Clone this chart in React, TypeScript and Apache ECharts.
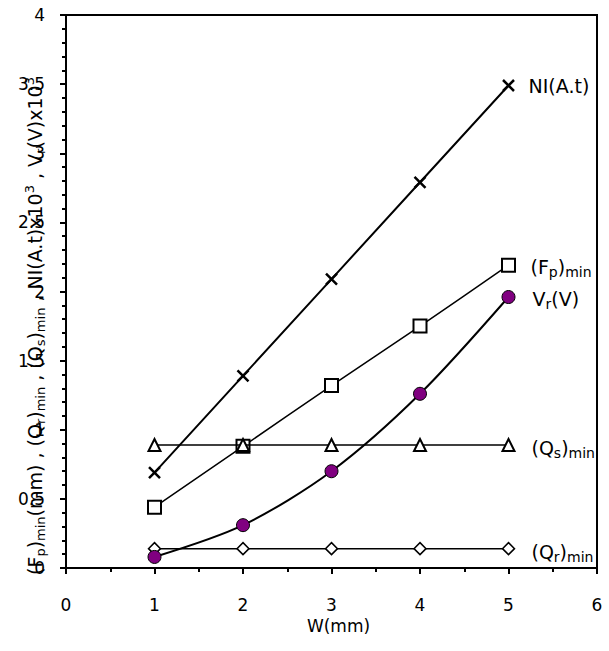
import React, { useEffect, useRef } from 'react';
import * as echarts from 'echarts';

const widths = [1, 2, 3, 4, 5];
const niValues = [0.69, 1.39, 2.09, 2.79, 3.49];
const fpValues = [0.44, 0.88, 1.32, 1.75, 2.19];
const vrValues = [0.08, 0.31, 0.7, 1.26, 1.96];
const qsValues = [0.89, 0.89, 0.89, 0.89, 0.89];
const qrValues = [0.14, 0.14, 0.14, 0.14, 0.14];

const FONT = 'DejaVu Sans, Liberation Sans, Arial, sans-serif';
const FS = 17;

const titleRich = {
  n: { fontSize: 19, fontFamily: FONT, color: '#000', lineHeight: 24 },
  s: { fontSize: 13, fontFamily: FONT, color: '#000', lineHeight: 15, verticalAlign: 'bottom' },
  p: { fontSize: 13, fontFamily: FONT, color: '#000', lineHeight: 15, verticalAlign: 'top' },
};

const labelRich = {
  n: { fontSize: 19, fontFamily: FONT, color: '#000', lineHeight: 24 },
  s: { fontSize: 14, fontFamily: FONT, color: '#000', lineHeight: 16, verticalAlign: 'bottom' },
};

const pts = (vals: number[]) => widths.map((w, i) => [w, vals[i]]);

const crossPath = 'path://M0 0L10 10M10 0L0 10';

export default function App() {
  const ref = useRef<HTMLDivElement>(null);
  useEffect(() => {
    if (!ref.current) return;
    const chart = echarts.init(ref.current, null, { renderer: 'svg' });
    const endLabel = (text: string, distance: number, dy = 0) => ({
      show: true,
      formatter: text,
      distance,
      offset: [0, dy],
      rich: labelRich,
    });
    const option: any = {
      animation: false,
      backgroundColor: '#fff',
      grid: {
        left: 66,
        top: 15,
        right: 12,
        bottom: 83,
        show: true,
        borderColor: '#000',
        borderWidth: 2,
      },
      xAxis: {
        type: 'value',
        min: 0,
        max: 6,
        interval: 1,
        name: 'W(mm)',
        nameLocation: 'middle',
        nameGap: 48,
        nameTextStyle: { fontSize: FS, fontFamily: FONT, color: '#000', padding: [0, 0, 0, 14] },
        axisLine: { show: true, lineStyle: { color: '#000', width: 2 } },
        axisTick: { show: true, inside: false, length: 6, lineStyle: { color: '#000', width: 2 } },
        minorTick: { show: true, splitNumber: 2, length: 4, lineStyle: { color: '#000', width: 2 } },
        splitLine: { show: false },
        axisLabel: { color: '#000', fontSize: FS, fontFamily: FONT, margin: 28 },
      },
      yAxis: {
        type: 'value',
        min: 0,
        max: 4,
        interval: 0.5,
        axisLine: { show: true, lineStyle: { color: '#000', width: 2 } },
        axisTick: { show: true, inside: false, length: 6, lineStyle: { color: '#000', width: 2 } },
        minorTick: { show: true, splitNumber: 5, length: 4, lineStyle: { color: '#000', width: 2 } },
        splitLine: { show: false },
        axisLabel: { color: '#000', fontSize: FS, fontFamily: FONT, margin: 21 },
      },
      graphic: [
        {
          type: 'text',
          x: 35,
          y: 326,
          rotation: Math.PI / 2,
          z: 100,
          style: {
            text:
              '{n|(F}{s|p}{n|)}{s|min}{n|(mm) , (Q}{s|r}{n|)}{s|min}{n| , (Q}{s|s}{n|)}{s|min}{n| , NI(A.t)x10}{p|3}{n| , V}{s|r}{n|(V)x10}{p|3}',
            rich: titleRich,
            align: 'center',
            verticalAlign: 'middle',
          },
        },
      ],
      series: [
        {
          type: 'line',
          name: '(Fp)min',
          data: pts(fpValues),
          smooth: 0.2,
          symbol: 'rect',
          symbolSize: 13,
          lineStyle: { color: '#000', width: 1.5 },
          itemStyle: { color: '#fff', borderColor: '#000', borderWidth: 2 },
          endLabel: endLabel('{n|(F}{s|p}{n|)}{s|min}', 22, 2),
          z: 3,
        },
        {
          type: 'line',
          name: '(Qs)min',
          data: pts(qsValues),
          symbol: 'triangle',
          symbolSize: 12,
          lineStyle: { color: '#000', width: 1.5 },
          itemStyle: { color: '#fff', borderColor: '#000', borderWidth: 2 },
          endLabel: endLabel('{n|(Q}{s|s}{n|)}{s|min}', 23, 3),
          z: 4,
        },
        {
          type: 'line',
          name: '(Qr)min',
          data: pts(qrValues),
          symbol: 'diamond',
          symbolSize: 12,
          lineStyle: { color: '#000', width: 1.5 },
          itemStyle: { color: '#fff', borderColor: '#000', borderWidth: 1.5 },
          endLabel: endLabel('{n|(Q}{s|r}{n|)}{s|min}', 23, 3),
          z: 4,
        },
        {
          type: 'line',
          name: 'Vr(V)',
          data: pts(vrValues),
          smooth: 0.3,
          symbol: 'circle',
          symbolSize: 13,
          lineStyle: { color: '#000', width: 2 },
          itemStyle: { color: '#800080', borderColor: '#000', borderWidth: 1 },
          endLabel: endLabel('{n|V}{s|r}{n|(V)}', 24, 2),
          z: 5,
        },
        {
          type: 'line',
          name: 'NI(A.t)',
          data: pts(niValues),
          symbol: crossPath,
          symbolSize: 11,
          lineStyle: { color: '#000', width: 2 },
          itemStyle: { color: 'none', borderColor: '#000', borderWidth: 2.5 },
          endLabel: endLabel('{n|NI(A.t)}', 20, 0),
          z: 5,
        },
      ],
    };
    chart.setOption(option);
    return () => chart.dispose();
  }, []);
  return (
    <div
      ref={ref}
      style={{ position: 'absolute', left: 0, top: 0, width: 609, height: 651, background: '#fff' }}
    />
  );
}
